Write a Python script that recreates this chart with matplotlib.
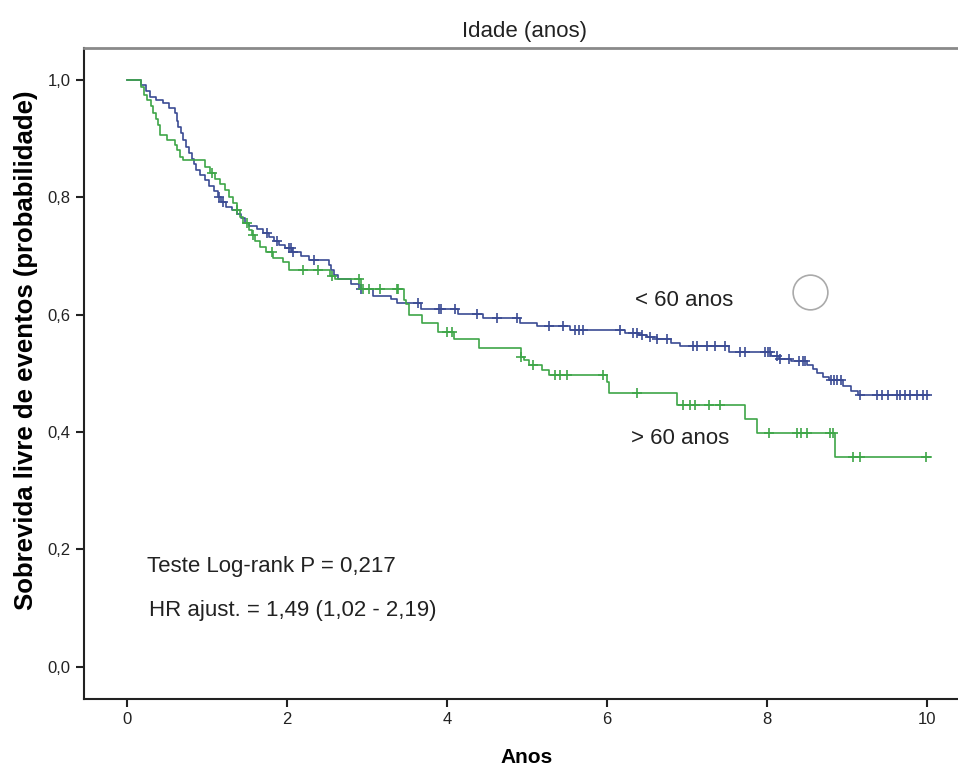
import numpy as np
import matplotlib
matplotlib.use("Agg")
import matplotlib.pyplot as plt

plt.rcParams['font.family'] = ['Liberation Sans', 'DejaVu Sans']

# Kaplan-Meier estimates, < 60 anos (event time, survival after the event)
young_t = [0, 0.18, 0.24, 0.29, 0.36, 0.45, 0.52, 0.60, 0.62, 0.64, 0.67, 0.70, 0.74, 0.78,
           0.81, 0.84, 0.86, 0.91, 0.97, 1.03, 1.09, 1.14, 1.18, 1.24, 1.31, 1.37, 1.42, 1.47,
           1.53, 1.62, 1.70, 1.78, 1.84, 1.90, 1.97, 2.06, 2.18, 2.28, 2.52, 2.55, 2.59, 2.64,
           2.80, 2.90, 3.08, 3.30, 3.37, 3.68, 4.14, 4.45, 4.91, 5.12, 5.54, 6.22, 6.40, 6.50,
           6.62, 6.80, 6.91, 7.52, 8.05, 8.15, 8.30, 8.50, 8.58, 8.62, 8.70, 8.78, 8.95, 9.05,
           9.14]
young_s = [1.0, 0.991, 0.982, 0.971, 0.966, 0.960, 0.952, 0.943, 0.930, 0.920, 0.910, 0.898,
           0.886, 0.876, 0.866, 0.856, 0.847, 0.838, 0.830, 0.820, 0.810, 0.800, 0.792, 0.784,
           0.778, 0.771, 0.764, 0.757, 0.751, 0.746, 0.740, 0.733, 0.726, 0.719, 0.713, 0.706,
           0.700, 0.693, 0.684, 0.676, 0.667, 0.660, 0.652, 0.644, 0.632, 0.627, 0.620, 0.610,
           0.602, 0.595, 0.586, 0.580, 0.574, 0.568, 0.565, 0.562, 0.559, 0.552, 0.547, 0.537,
           0.530, 0.525, 0.521, 0.514, 0.508, 0.500, 0.494, 0.488, 0.478, 0.470, 0.463]
young_cens = [1.15, 1.20, 1.75, 1.88, 2.02, 2.05, 2.08, 2.34, 2.93, 3.64, 3.90, 3.93, 4.10,
              4.37, 4.62, 4.87, 5.27, 5.45, 5.60, 5.65, 5.70, 6.16, 6.33, 6.38, 6.44, 6.54,
              6.63, 6.75, 7.08, 7.12, 7.25, 7.35, 7.47, 7.66, 7.72, 7.98, 8.01, 8.04, 8.12,
              8.16, 8.28, 8.40, 8.45, 8.48, 8.80, 8.84, 8.88, 8.92, 9.16, 9.38, 9.44, 9.51,
              9.62, 9.66, 9.72, 9.79, 9.87, 9.95, 10.0]
young_end = 10.03

# > 60 anos
old_t = [0, 0.18, 0.21, 0.25, 0.30, 0.33, 0.36, 0.39, 0.41, 0.50, 0.60, 0.63, 0.66, 0.70,
         0.98, 1.04, 1.10, 1.16, 1.22, 1.28, 1.32, 1.37, 1.41, 1.45, 1.52, 1.56, 1.60, 1.66,
         1.74, 1.82, 1.95, 2.03, 2.54, 2.60, 2.92, 3.46, 3.49, 3.52, 3.69, 3.89, 4.09, 4.40,
         4.92, 4.96, 5.02, 5.19, 5.28, 6.00, 6.03, 6.88, 7.73, 7.88, 8.85]
old_s = [1.0, 0.988, 0.975, 0.966, 0.955, 0.943, 0.933, 0.923, 0.906, 0.898, 0.890, 0.880,
         0.869, 0.864, 0.852, 0.842, 0.832, 0.822, 0.812, 0.800, 0.790, 0.778, 0.766, 0.756,
         0.745, 0.736, 0.725, 0.716, 0.707, 0.697, 0.690, 0.676, 0.666, 0.660, 0.643, 0.625,
         0.619, 0.600, 0.586, 0.571, 0.558, 0.543, 0.528, 0.522, 0.514, 0.506, 0.497, 0.485,
         0.466, 0.446, 0.423, 0.398, 0.358]
old_cens = [1.06, 1.37, 1.50, 1.58, 1.81, 2.20, 2.39, 2.56, 2.90, 2.95, 3.02, 3.16, 3.37,
            3.39, 4.00, 4.06, 4.93, 5.08, 5.35, 5.41, 5.50, 5.95, 6.37, 6.95, 7.04, 7.10,
            7.27, 7.41, 8.02, 8.37, 8.43, 8.50, 8.79, 8.83, 9.08, 9.16, 9.99]
old_end = 10.05

x_ticks = [0, 2, 4, 6, 8, 10]
y_ticks = [0.0, 0.2, 0.4, 0.6, 0.8, 1.0]

BLUE = '#3b4b94'
GREEN = '#3ea648'
INK = '#222222'

W, H = 958, 769
fig = plt.figure(figsize=(W / 100, H / 100), dpi=100)
# frame runs a little past the right edge, so no right spine is seen
ax = fig.add_axes([84 / W, (H - 699) / H, (965 - 84) / W, (699 - 48) / H])


def km_curve(times, surv, cens, end, color):
    t = np.append(times, end)
    s = np.append(surv, surv[-1])
    ax.step(t, s, where='post', color=color, lw=1.2)
    # censored cases sit on the curve
    idx = np.searchsorted(times, cens, side='right') - 1
    ax.plot(cens, np.asarray(surv)[idx], ls='none', marker='+', ms=7, mew=1.2, color=color)


km_curve(young_t, young_s, young_cens, young_end, BLUE)
km_curve(old_t, old_s, old_cens, old_end, GREEN)

ax.set_xlim(-0.5375, 10.475)
ax.set_ylim(-0.055, 1.0545)
ax.set_xticks(x_ticks)
ax.set_xticklabels([str(v) for v in x_ticks])
ax.set_yticks(y_ticks)
ax.set_yticklabels([f'{v:.1f}'.replace('.', ',') for v in y_ticks])
ax.tick_params(direction='out', length=6, width=1.5, labelsize=12, colors=INK)

for side in ['left', 'bottom']:
    ax.spines[side].set_linewidth(1.5)
    ax.spines[side].set_color(INK)
ax.spines['top'].set_linewidth(2)
ax.spines['top'].set_color('#8a8a8a')
ax.spines['right'].set_visible(False)

ax.set_title('Idade (anos)', fontsize=16, color=INK, pad=8)
ax.set_xlabel('Anos', fontsize=15, fontweight='bold')
ax.set_ylabel('Sobrevida livre de eventos (probabilidade)', fontsize=18.5, fontweight='bold')
ax.xaxis.set_label_coords(0.502, -0.075)
ax.yaxis.set_label_coords(-0.052, 0.535)

ax.text(6.35, 0.625, '< 60 anos', fontsize=16, va='center', color=INK)
ax.text(6.3, 0.389, '> 60 anos', fontsize=16, va='center', color=INK)
ax.text(0.25, 0.17, 'Teste Log-rank P = 0,217', fontsize=16, va='center', color=INK)
ax.text(0.27, 0.095, 'HR ajust. = 1,49 (1,02 - 2,19)', fontsize=16, va='center', color=INK)

ax.plot([8.54], [0.638], marker='o', ms=25, mfc='none', mec='#aaaaaa', mew=1.2)

fig.savefig('out.png', dpi=100)
